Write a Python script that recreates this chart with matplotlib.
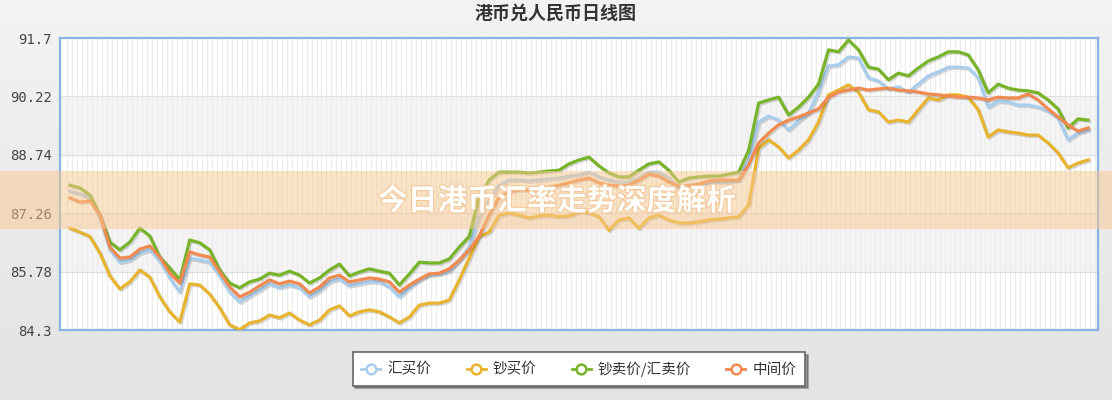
import numpy as np
import matplotlib
matplotlib.use("Agg")
import matplotlib.pyplot as plt
from matplotlib.lines import Line2D
from matplotlib.patches import Rectangle
import matplotlib.patheffects as pe

CJK = ["Noto Sans CJK SC", "DejaVu Sans"]

title = "港币兑人民币日线图"
banner = "今日港币汇率走势深度解析"
series_names = ["汇买价", "钞买价", "钞卖价/汇卖价", "中间价"]
y_ticks = [84.3, 85.78, 87.26, 88.74, 90.22, 91.7]

# 汇买价
buy_rate = [
    87.82, 87.75, 87.65, 87.14, 86.33, 86.02, 86.07, 86.25, 86.33, 86.05,
    85.62, 85.26, 86.12, 86.07, 86.02, 85.67, 85.26, 85.01, 85.16, 85.31,
    85.47, 85.37, 85.44, 85.37, 85.14, 85.29, 85.52, 85.59, 85.42, 85.47,
    85.52, 85.52, 85.39, 85.14, 85.37, 85.57, 85.69, 85.72, 85.79, 86.07,
    86.40, 87.17, 87.59, 87.97, 88.10, 88.10, 88.08, 88.10, 88.13, 88.15,
    88.20, 88.23, 88.30, 88.18, 88.10, 88.05, 88.05, 88.15, 88.30, 88.30,
    88.15, 87.90, 87.97, 88.00, 88.03, 88.05, 88.05, 88.10, 88.61, 89.57,
    89.72, 89.62, 89.37, 89.60, 89.80, 90.33, 90.99, 91.02, 91.22, 91.19,
    90.69, 90.61, 90.41, 90.46, 90.33, 90.53, 90.74, 90.84, 90.96, 90.96,
    90.94, 90.69, 89.95, 90.10, 90.08, 90.00, 90.00, 89.95, 89.85, 89.67,
    89.12, 89.29, 89.37,
]
# 钞买价
cash_buy = [
    86.88, 86.78, 86.67, 86.25, 85.67, 85.34, 85.52, 85.82, 85.64, 85.14,
    84.76, 84.50, 85.47, 85.44, 85.21, 84.86, 84.43, 84.31, 84.48, 84.53,
    84.68, 84.61, 84.73, 84.55, 84.43, 84.55, 84.81, 84.91, 84.66, 84.76,
    84.81, 84.76, 84.63, 84.48, 84.63, 84.93, 84.98, 84.98, 85.06, 85.57,
    86.12, 86.67, 86.78, 87.21, 87.27, 87.21, 87.14, 87.19, 87.21, 87.17,
    87.19, 87.29, 87.27, 87.17, 86.83, 87.09, 87.14, 86.88, 87.14, 87.21,
    87.09, 87.01, 87.01, 87.04, 87.09, 87.11, 87.14, 87.17, 87.47, 88.91,
    89.12, 88.94, 88.66, 88.86, 89.12, 89.57, 90.26, 90.38, 90.51, 90.33,
    89.88, 89.83, 89.57, 89.62, 89.57, 89.88, 90.18, 90.13, 90.26, 90.26,
    90.20, 89.88, 89.19, 89.37, 89.32, 89.29, 89.24, 89.24, 89.04, 88.79,
    88.41, 88.53, 88.61,
]
# 钞卖价/汇卖价
sell_rate = [
    87.97, 87.90, 87.72, 87.21, 86.53, 86.33, 86.53, 86.88, 86.68, 86.15,
    85.87, 85.57, 86.58, 86.51, 86.33, 85.82, 85.49, 85.37, 85.52, 85.59,
    85.74, 85.69, 85.79, 85.69, 85.49, 85.62, 85.82, 85.97, 85.67, 85.77,
    85.85, 85.79, 85.74, 85.44, 85.72, 86.02, 86.00, 86.00, 86.10, 86.40,
    86.67, 87.67, 88.10, 88.30, 88.30, 88.30, 88.28, 88.30, 88.33, 88.35,
    88.51, 88.61, 88.68, 88.46, 88.28, 88.18, 88.18, 88.35, 88.51, 88.56,
    88.35, 88.05, 88.15, 88.18, 88.20, 88.20, 88.25, 88.30, 88.86, 90.05,
    90.13, 90.20, 89.75, 89.95, 90.20, 90.53, 91.40, 91.35, 91.65, 91.40,
    90.96, 90.91, 90.64, 90.81, 90.74, 90.94, 91.12, 91.22, 91.35, 91.35,
    91.27, 90.89, 90.31, 90.53, 90.43, 90.38, 90.36, 90.31, 90.13, 89.90,
    89.42, 89.65, 89.62,
]
# 中间价
mid_rate = [
    87.65, 87.54, 87.57, 87.21, 86.40, 86.12, 86.15, 86.35, 86.43, 86.15,
    85.74, 85.49, 86.28, 86.20, 86.15, 85.77, 85.39, 85.14, 85.26, 85.42,
    85.57, 85.47, 85.54, 85.47, 85.24, 85.39, 85.62, 85.69, 85.52, 85.57,
    85.62, 85.59, 85.52, 85.26, 85.44, 85.59, 85.72, 85.74, 85.85, 86.07,
    86.33, 86.68, 87.21, 87.67, 87.80, 87.85, 87.85, 87.90, 87.92, 87.97,
    88.03, 88.10, 88.15, 88.03, 87.97, 87.95, 87.97, 88.10, 88.25, 88.20,
    88.05, 87.95, 87.95, 88.00, 88.08, 88.10, 88.10, 88.10, 88.48, 89.04,
    89.29, 89.50, 89.62, 89.70, 89.80, 89.90, 90.20, 90.33, 90.38, 90.43,
    90.38, 90.41, 90.43, 90.38, 90.36, 90.33, 90.28, 90.26, 90.23, 90.20,
    90.20, 90.18, 90.13, 90.20, 90.18, 90.18, 90.28, 90.13, 89.90, 89.70,
    89.50, 89.34, 89.42,
]

colors = ["#a9cdec", "#e8b430", "#78b42a", "#f08a50"]

fig = plt.figure(figsize=(11.12, 4.0), dpi=100)
fig.patch.set_facecolor("#ececec")

# soft grey background gradient
bg = fig.add_axes([0, 0, 1, 1], zorder=-10)
grad = np.linspace(0, 1, 256).reshape(-1, 1)
bg.imshow(grad, aspect="auto", cmap=matplotlib.colors.LinearSegmentedColormap.from_list(
    "bg", ["#f3f3f3", "#e3e3e3"]), extent=[0, 1, 0, 1])
bg.axis("off")

ax = fig.add_axes([60 / 1112, 70 / 400, 1038 / 1112, 292 / 400])
ax.set_facecolor("white")

x = np.arange(len(mid_rate))
ax.set_xlim(-1.0, 103.0)
ax.set_ylim(84.3, 91.7)

# bands and grid
for lo, hi in [(88.74, 90.22), (85.78, 87.26)]:
    ax.axhspan(lo, hi, color="#f4f4f4", zorder=0)
for yv in y_ticks[1:-1]:
    ax.axhline(yv, color="#e0e0e0", lw=0.8, zorder=0.5)
for xv in np.arange(-0.3, 103.0, 0.5):
    ax.axvline(xv, color="#ececec", lw=0.8, zorder=0.4)

shadow = [pe.SimpleLineShadow(offset=(1, -1), alpha=0.15), pe.Normal()]
for vals, c in zip([buy_rate, cash_buy, sell_rate, mid_rate], colors):
    ax.plot(x, vals, color=c, lw=2.3, solid_joinstyle="round", zorder=3,
            path_effects=shadow)

ax.set_yticks(y_ticks)
ax.set_yticklabels(["84.3", "85.78", "87.26", "88.74", "90.22", "91.7"],
                   family="DejaVu Sans Mono", fontsize=10, color="#444444")
ax.tick_params(axis="y", length=0, pad=6)
ax.set_xticks([])
for s in ax.spines.values():
    s.set_color("#88b4df")
    s.set_linewidth(1.6)

fig.text(0.5, 1 - 13 / 400, title, ha="center", va="center", fontsize=13,
         fontweight="bold", color="#333333", family=CJK)

handles = [Line2D([0], [0], color=c, lw=2, marker="o", markersize=7,
                  markerfacecolor="white", markeredgewidth=1.8) for c in colors]
leg = ax.legend(handles, series_names, loc="center", ncol=4,
                bbox_to_anchor=(579 / 1112, 1 - 369 / 400),
                bbox_transform=fig.transFigure, frameon=True, fancybox=False,
                shadow=True, handlelength=1.3, handletextpad=0.5,
                columnspacing=2.4, borderpad=0.6,
                prop={"family": CJK, "size": 10.5})
leg.get_frame().set_edgecolor("#666666")
leg.get_frame().set_linewidth(1.2)
for t in leg.get_texts():
    t.set_color("#333333")

# overlay banner
fig.patches.append(Rectangle((0, 1 - 229 / 400), 1, 58 / 400,
                             transform=fig.transFigure, facecolor="#f9c88f",
                             alpha=0.5, edgecolor="none", zorder=10))
fig.text(557 / 1112, 1 - 201 / 400, banner, ha="center", va="center",
         fontsize=21.5, fontweight="bold", color="white", family=CJK, zorder=11,
         path_effects=[pe.withStroke(linewidth=1.5, foreground="#f3c898")])

fig.savefig("out.png", dpi=100, facecolor=fig.get_facecolor())
